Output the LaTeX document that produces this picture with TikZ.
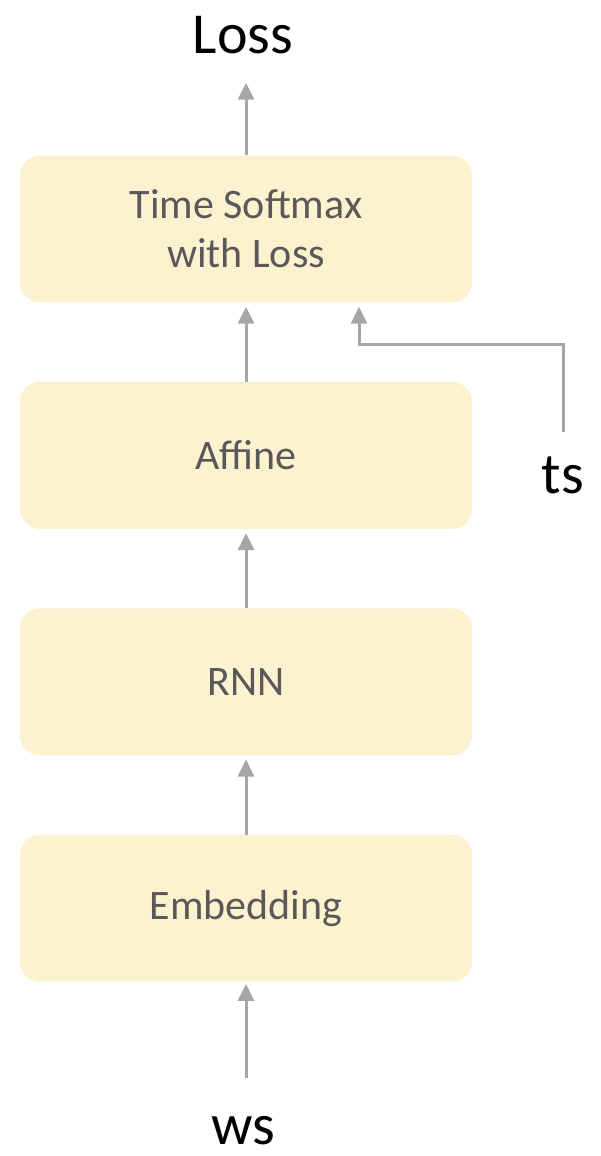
\documentclass[tikz,border=0pt]{standalone}
\usepackage{fontspec}
\setmainfont{Carlito}
\usetikzlibrary{positioning, arrows.meta}
\definecolor{layerFill}{RGB}{253, 242, 208}
\definecolor{layerText}{RGB}{89, 89, 89}
\definecolor{flowGray}{RGB}{166, 166, 166}

\tikzset{
  layer/.style={fill=layerFill, rounded corners=20pt, minimum width=452pt,
    minimum height=147pt, align=center, text=layerText,
    font=\fontsize{42}{49}\selectfont},
  flow/.style={draw=flowGray, line width=3pt,
    -{Triangle[length=17pt, width=16pt]}, shorten >=4pt},
  ioname/.style={inner sep=0pt, anchor=base, font=\fontsize{58}{60}\selectfont}
}

\begin{document}
\begin{tikzpicture}[x=1pt, y=-1pt]
        \useasboundingbox (0,0) rectangle (600,1156);
        % stacked layers
        \node[layer] (softmax) at (246,229) {Time Softmax\\with Loss};
        \node[layer, below=79pt of softmax] (affine) {Affine};
        \node[layer, below=79pt of affine] (rnn) {RNN};
        \node[layer, below=79pt of rnn] (embed) {Embedding};
        % inputs and output
        \node[ioname] (loss) at (243,53) {Loss};
        \node[ioname] (ts) at (563,493) {ts};
        \node[ioname] (ws) at (243,1144) {ws};
        \coordinate (tsbend) at (359,344);
        \draw[flow, shorten >=29pt] (softmax.north) -- (loss.south -| softmax.north);
        \draw[flow] (affine.north) -- (softmax.south);
        \draw[flow] (rnn.north) -- (affine.south);
        \draw[flow] (embed.north) -- (rnn.south);
        \draw[flow, shorten <=38pt, shorten >=2pt] (ws.north -| embed.south) -- (embed.south);
        \draw[flow, shorten <=24pt] (ts.north) |- (tsbend) -- (tsbend |- softmax.south);
      \end{tikzpicture}
\end{document}
